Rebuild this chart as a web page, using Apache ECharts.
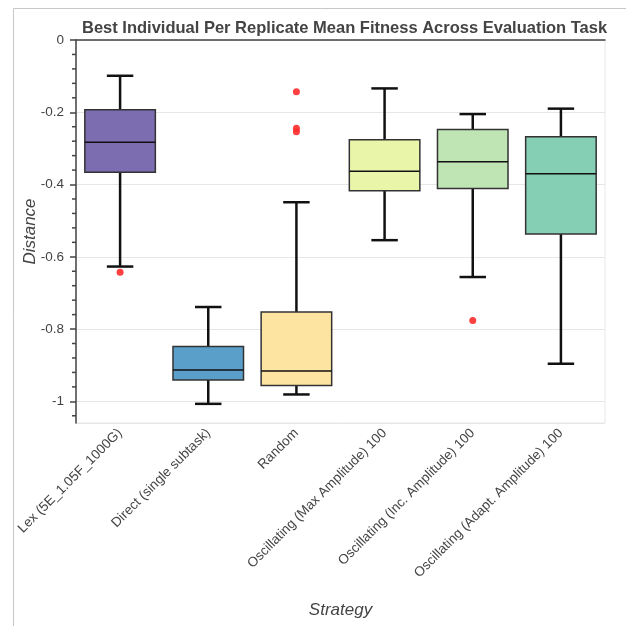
<!DOCTYPE html>
<html>
<head>
<meta charset="utf-8">
<script src="https://cdn.jsdelivr.net/npm/echarts@6/dist/echarts.min.js"></script>
<style>html,body{margin:0;padding:0;background:#fff;}#c{width:626px;height:626px;}</style>
</head>
<body>
<div id="c"></div>
<script>
// Categories
const categories = [
  'Lex (5E_1.05F_1000G)',
  'Direct (single subtask)',
  'Random',
  'Oscillating (Max Amplitude) 100',
  'Oscillating (Inc. Amplitude) 100',
  'Oscillating (Adapt. Amplitude) 100'
];
// Box statistics: lower whisker, lower quartile, median, upper quartile, upper whisker
const lowerWhisker = [-0.627, -1.007, -0.981, -0.554, -0.656, -0.896];
const lowerQuartile = [-0.366, -0.941, -0.956, -0.417, -0.411, -0.537];
const medians      = [-0.283, -0.913, -0.916, -0.363, -0.337, -0.370];
const upperQuartile = [-0.193, -0.848, -0.753, -0.276, -0.248, -0.268];
const upperWhisker = [-0.099, -0.739, -0.449, -0.134, -0.205, -0.190];
// Outliers: category index and value
const outlierCategory = [0, 2, 2, 2, 4];
const outlierValue    = [-0.643, -0.143, -0.244, -0.254, -0.776];
// Box fill colours
const boxColors = ['#7b6db0', '#5a9fca', '#fde4a1', '#e9f6aa', '#bfe5b4', '#85cfb5'];
// Y axis
const yMin = -1.06, yMax = 0;
const minorTickValues = [-0.04, -0.08, -0.12, -0.16, -0.24, -0.28, -0.32, -0.36, -0.44, -0.48, -0.52, -0.56,
  -0.64, -0.68, -0.72, -0.76, -0.84, -0.88, -0.92, -0.96, -1.04];

const boxData = categories.map((c, i) => [i, lowerWhisker[i], lowerQuartile[i], medians[i], upperQuartile[i], upperWhisker[i]]);
const outlierData = outlierCategory.map((c, i) => [c, outlierValue[i]]);

const chart = echarts.init(document.getElementById('c'), null, {renderer: 'canvas'});
const FONT = '"Liberation Sans", Arial, Helvetica, sans-serif';

chart.setOption({
  animation: false,
  backgroundColor: '#fff',
  title: {
    text: 'Best Individual Per Replicate Mean Fitness Across Evaluation Task',
    left: 77, top: 15,
    textStyle: {fontFamily: FONT, fontSize: 16.5, fontWeight: 'bold', color: '#444'}
  },
  graphic: [{
    type: 'rect', left: 11, top: 6, silent: true,
    shape: {width: 700, height: 700},
    style: {fill: 'none', stroke: '#c8c8c8', lineWidth: 1}
  }],
  grid: {left: 76, right: 21, top: 40, bottom: 203, show: true, borderColor: '#e8e8e8', borderWidth: 1, backgroundColor: 'transparent'},
  xAxis: {
    type: 'category', data: categories, boundaryGap: true,
    name: 'Strategy', nameLocation: 'middle', nameGap: 179, nameMoveOverlap: false,
    nameTextStyle: {fontFamily: FONT, fontSize: 17, fontStyle: 'italic', color: '#444'},
    axisLine: {lineStyle: {color: '#444', width: 1.5}},
    axisTick: {alignWithLabel: true, length: 6, lineStyle: {color: '#444', width: 1.5}},
    axisLabel: {rotate: 45, fontFamily: FONT, fontSize: 13.5, color: '#444', margin: 8, interval: 0},
    splitLine: {show: false}
  },
  yAxis: {
    type: 'value', min: yMin, max: yMax, splitNumber: 5,
    name: 'Distance', nameLocation: 'middle', nameGap: 37, nameMoveOverlap: false,
    nameTextStyle: {fontFamily: FONT, fontSize: 17, fontStyle: 'italic', color: '#444'},
    axisLine: {show: true, lineStyle: {color: '#444', width: 1.5}},
    axisTick: {show: true, length: 6, lineStyle: {color: '#444', width: 1.5}},
    minorTick: {show: false},
    axisLabel: {showMinLabel: false, fontFamily: FONT, fontSize: 13.5, color: '#444', margin: 12},
    splitLine: {show: true, lineStyle: {color: '#e6e6e6', width: 1}}
  },
  series: [
    {
      type: 'custom',
      name: 'minorTicks',
      silent: true, clip: false,
      data: minorTickValues.map(v => [0, v]),
      renderItem: function (params, api) {
        const p = api.coord([0, api.value(1)]);
        const x0 = params.coordSys.x;
        return {type: 'line', shape: {x1: x0 - 4, y1: p[1], x2: x0, y2: p[1]},
          style: {stroke: '#444', lineWidth: 1.5}};
      }
    },
    {
      type: 'custom',
      name: 'boxes',
      data: boxData,
      renderItem: function (params, api) {
        const i = api.value(0);
        const pLo = api.coord([i, api.value(1)]);
        const pQ1 = api.coord([i, api.value(2)]);
        const pMed = api.coord([i, api.value(3)]);
        const pQ3 = api.coord([i, api.value(4)]);
        const pHi = api.coord([i, api.value(5)]);
        const band = api.size([1, 0])[0];
        const bw = band * 0.8, cw = band * 0.3;
        const x = pMed[0];
        const wStyle = {stroke: '#111', lineWidth: 2.5};
        return {
          type: 'group',
          children: [
            {type: 'line', shape: {x1: x, y1: pHi[1], x2: x, y2: pQ3[1]}, style: wStyle},
            {type: 'line', shape: {x1: x, y1: pQ1[1], x2: x, y2: pLo[1]}, style: wStyle},
            {type: 'line', shape: {x1: x - cw / 2, y1: pHi[1], x2: x + cw / 2, y2: pHi[1]}, style: wStyle},
            {type: 'line', shape: {x1: x - cw / 2, y1: pLo[1], x2: x + cw / 2, y2: pLo[1]}, style: wStyle},
            {type: 'rect', shape: {x: x - bw / 2, y: pQ3[1], width: bw, height: pQ1[1] - pQ3[1]},
              style: {fill: boxColors[i], stroke: '#333', lineWidth: 1.5}},
            {type: 'line', shape: {x1: x - bw / 2, y1: pMed[1], x2: x + bw / 2, y2: pMed[1]},
              style: {stroke: '#111', lineWidth: 1.5}}
          ]
        };
      }
    },
    {
      type: 'scatter',
      name: 'outliers',
      data: outlierData,
      symbol: 'circle', symbolSize: 7,
      itemStyle: {color: '#ff2b2b', opacity: 0.9}
    }
  ]
});
</script>
</body>
</html>
